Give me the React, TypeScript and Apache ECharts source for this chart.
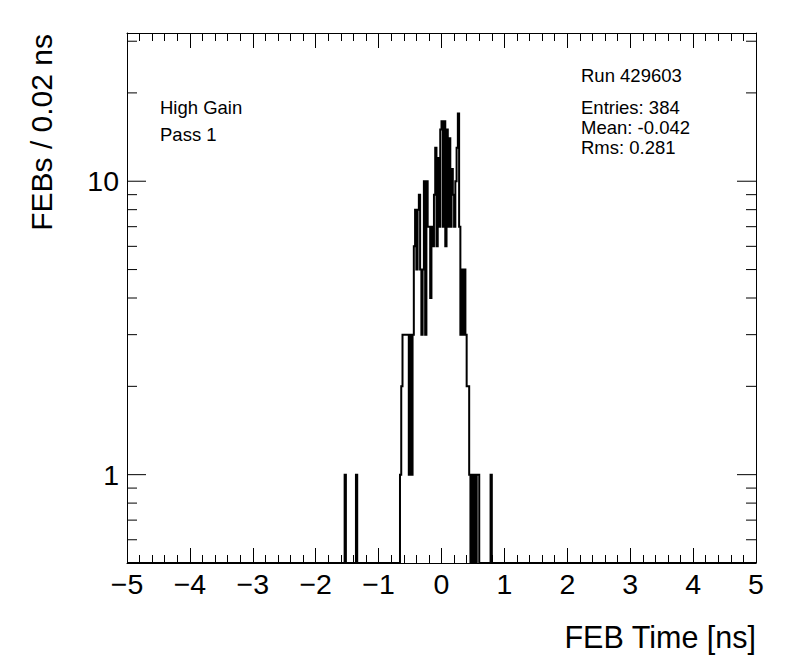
import React, { useEffect, useRef } from "react";
import * as echarts from "echarts";

// ---------- data ----------
const X_MIN = -5;
const X_MAX = 5;
const Y_MIN = 0.5;
const Y_MAX = 32;
const BIN_WIDTH = 0.02;
const N_BINS = 500;

// counts of consecutive 0.02 ns bins starting at coreStart
const coreStart = -0.66;
const coreCounts = [
  1, 2, 3, 3, 3, 3, 3, 1, 3, 1,
  3, 6, 8, 5, 8, 9, 5, 3, 5, 10,
  3, 10, 7, 7, 4, 7, 6, 9, 13, 6,
  12, 7, 15, 16, 7, 16, 6, 15, 7, 14,
  7, 11, 9, 7, 10, 13, 17, 7, 3, 5,
  3, 5, 3, 2, 2, 1, 0, 1, 0, 1,
  0, 1, 1, 0, 0, 0, 0, 0, 0, 0,
  0, 0, 1,
];
// isolated bins (low edges) and their counts
const outlierLowEdges = [-1.54, -1.36];
const outlierCounts = [1, 1];

const yMajorTicks = [1, 10];
const yMinorTicks = [0.6, 0.7, 0.8, 0.9, 2, 3, 4, 5, 6, 7, 8, 9, 20, 30];
const yLabelValues = [1, 10];

const runLabel = "Run 429603";
const statLines = ["Entries: 384", "Mean: -0.042", "Rms: 0.281"];
const legendLines = ["High Gain", "Pass 1"];
const xTitle = "FEB Time [ns]";
const yTitle = "FEBs / 0.02 ns";

const FONT = "'Liberation Sans', Arial, Helvetica, sans-serif";

function buildOutline(): number[][] {
  const counts = new Array(N_BINS).fill(0);
  const idx = (edge: number) => Math.round((edge - X_MIN) / BIN_WIDTH);
  const start = idx(coreStart);
  coreCounts.forEach((c, i) => {
    counts[start + i] += c;
  });
  outlierLowEdges.forEach((e, i) => {
    counts[idx(e)] += outlierCounts[i];
  });
  const pts: number[][] = [];
  for (let i = 0; i < N_BINS; i++) {
    const lo = +(X_MIN + i * BIN_WIDTH).toFixed(4);
    const hi = +(lo + BIN_WIDTH).toFixed(4);
    const v = counts[i] > 0 ? counts[i] : Y_MIN;
    pts.push([lo, v], [hi, v]);
  }
  return pts;
}

export default function App() {
  const ref = useRef<HTMLDivElement>(null);

  useEffect(() => {
    if (!ref.current) return;
    const chart = echarts.init(ref.current, undefined, { renderer: "svg" });

    const tickData = [
      ...yMajorTicks.map((v) => [X_MIN, v, 19]),
      ...yMinorTicks.map((v) => [X_MIN, v, 10]),
    ];

    const xAxisBase = {
      type: "value",
      min: X_MIN,
      max: X_MAX,
      interval: 1,
      axisLine: { show: true, onZero: false, lineStyle: { color: "#000", width: 1 } },
      axisTick: { show: true, inside: true, length: 15, lineStyle: { color: "#000", width: 1 } },
      minorTick: { show: true, splitNumber: 5, length: 8, lineStyle: { color: "#000", width: 1 } },
      splitLine: { show: false },
      minorSplitLine: { show: false },
    };

    const option: any = {
      animation: false,
      backgroundColor: "#fff",
      grid: { left: 127, top: 33, width: 629, height: 530, containLabel: false },
      xAxis: [
        {
          ...xAxisBase,
          position: "bottom",
          axisLabel: {
            show: true,
            color: "#000",
            fontSize: 28.5,
            fontFamily: FONT,
            margin: 6,
            formatter: (v: number) => (v < 0 ? "\u2212" + Math.abs(v) : String(v)),
          },
        },
        { ...xAxisBase, position: "top", axisLabel: { show: false } },
      ],
      yAxis: [
        {
          type: "log",
          logBase: 10,
          min: Y_MIN,
          max: Y_MAX,
          position: "left",
          axisLine: { show: true, onZero: false, lineStyle: { color: "#000", width: 1 } },
          axisTick: { show: false },
          splitLine: { show: false },
          axisLabel: {
            show: true,
            color: "#000",
            fontSize: 28.5,
            fontFamily: FONT,
            margin: 8,
            showMinLabel: false,
            showMaxLabel: false,
            formatter: (v: number) =>
              yLabelValues.some((t) => Math.abs(t - v) < 1e-6) ? String(v) : "",
          },
        },
        {
          type: "log",
          logBase: 10,
          min: Y_MIN,
          max: Y_MAX,
          position: "right",
          axisLine: { show: true, onZero: false, lineStyle: { color: "#000", width: 1 } },
          axisTick: { show: false },
          splitLine: { show: false },
          axisLabel: { show: false },
        },
      ],
      series: [
        {
          type: "line",
          xAxisIndex: 0,
          yAxisIndex: 0,
          data: buildOutline(),
          symbol: "none",
          showSymbol: false,
          clip: true,
          silent: true,
          lineStyle: { color: "#000", width: 2, cap: "butt", join: "miter" },
          z: 3,
        },
        {
          type: "custom",
          xAxisIndex: 0,
          yAxisIndex: 0,
          coordinateSystem: "cartesian2d",
          encode: { x: 0, y: 1 },
          data: tickData,
          silent: true,
          clip: false,
          z: 4,
          renderItem: (_params: any, api: any) => {
            const v = api.value(1);
            const len = api.value(2);
            const l = api.coord([X_MIN, v]);
            const r = api.coord([X_MAX, v]);
            return {
              type: "group",
              children: [
                {
                  type: "line",
                  shape: { x1: l[0], y1: l[1], x2: l[0] + len, y2: l[1] },
                  style: { stroke: "#000", lineWidth: 1 },
                },
                {
                  type: "line",
                  shape: { x1: r[0] - len, y1: r[1], x2: r[0], y2: r[1] },
                  style: { stroke: "#000", lineWidth: 1 },
                },
              ],
            };
          },
        },
      ],
      graphic: [
        {
          type: "text",
          x: 581,
          y: 75,
          style: { text: runLabel, fontSize: 18.5, fontFamily: FONT, fill: "#000", textAlign: "left", textVerticalAlign: "middle" },
        },
        ...statLines.map((t, i) => ({
          type: "text",
          x: 581,
          y: 107 + i * 20,
          style: { text: t, fontSize: 18.5, fontFamily: FONT, fill: "#000", textAlign: "left", textVerticalAlign: "middle" },
        })),
        ...legendLines.map((t, i) => ({
          type: "text",
          x: 160,
          y: 107 + i * 27,
          style: { text: t, fontSize: 18.5, fontFamily: FONT, fill: "#000", textAlign: "left", textVerticalAlign: "middle" },
        })),
        {
          type: "text",
          x: 756,
          y: 637,
          style: { text: xTitle, fontSize: 30.5, fontFamily: FONT, fill: "#000", textAlign: "right", textVerticalAlign: "middle" },
        },
        {
          type: "text",
          x: 41,
          y: 34,
          rotation: Math.PI / 2,
          style: { text: yTitle, fontSize: 30, fontFamily: FONT, fill: "#000", textAlign: "right", textVerticalAlign: "middle" },
        },
      ],
    };

    chart.setOption(option);
    return () => {
      chart.dispose();
    };
  }, []);

  return (
    <div
      ref={ref}
      style={{ position: "absolute", left: 0, top: 0, width: 796, height: 672, background: "#fff" }}
    />
  );
}
